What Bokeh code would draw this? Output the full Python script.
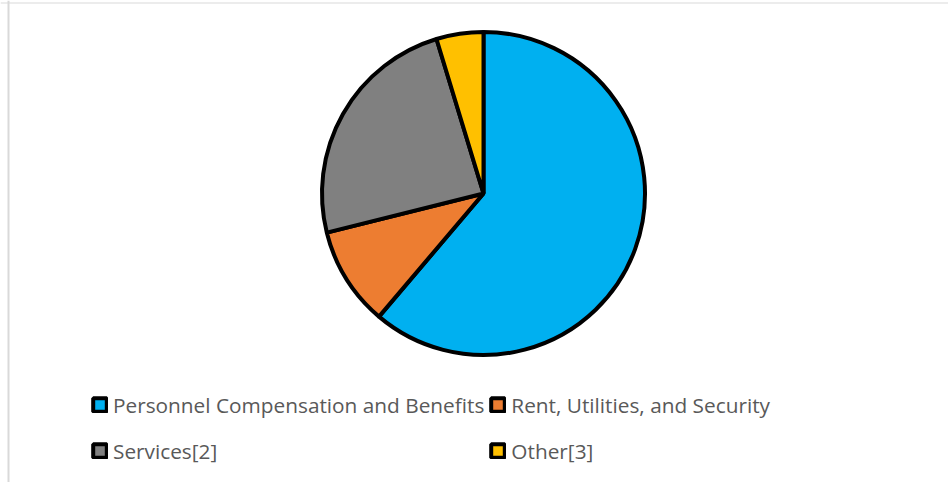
import numpy as np
import pandas as pd
from bokeh.plotting import figure
from bokeh.models import Range1d, Legend, LegendItem, Span, ColumnDataSource
from bokeh.embed import file_html
from bokeh.resources import INLINE

categories = ["Personnel Compensation and Benefits", "Rent, Utilities, and Security",
              "Services[2]", "Other[3]"]
shares = [61.2, 9.9, 24.2, 4.7]
colors = ["#00B0F0", "#ED7D31", "#808080", "#FFC000"]

W, H = 948, 482
OX, OY = 0, 0  # page offset of the figure

df = pd.DataFrame({"cat": categories, "val": shares, "color": colors})
frac = df["val"] / df["val"].sum()
cum = frac.cumsum()
df["start"] = np.pi / 2 - 2 * np.pi * (cum - frac)
df["end"] = np.pi / 2 - 2 * np.pi * cum
src = ColumnDataSource(df)

p = figure(width=W, height=H, output_backend="svg", toolbar_location=None,
           x_range=Range1d(0, W), y_range=Range1d(0, H), min_border=0,
           outline_line_color=None)
p.axis.visible = False
p.grid.visible = False

def px(x):
    return x - OX

def py(y):
    return H - (y - OY)

g = p.wedge(x=px(483), y=py(193), radius=161.5, start_angle="start", end_angle="end",
            direction="clock", fill_color="color", line_color="black",
            line_width=4, source=src)

p.add_layout(Span(location=px(8), dimension="height", line_color="#d9d9d9", line_width=2))
p.add_layout(Span(location=py(2.5), dimension="width", line_color="#d9d9d9", line_width=1))

order = [0, 2, 1, 3]  # legend fills column-first: rows read left to right
items = [LegendItem(label=categories[i], renderers=[g], index=i) for i in order]
legend = Legend(items=items, ncols=2, location=(px(91), py(471)), padding=0, margin=0,
                border_line_color=None, background_fill_alpha=0,
                glyph_width=17, glyph_height=17, label_standoff=5, spacing=5,
                label_height=41, label_text_font="Open Sans",
                label_text_font_size="20.8px", label_text_color="#595959")
p.add_layout(legend)

open("out.html", "w").write(file_html(p, INLINE))
